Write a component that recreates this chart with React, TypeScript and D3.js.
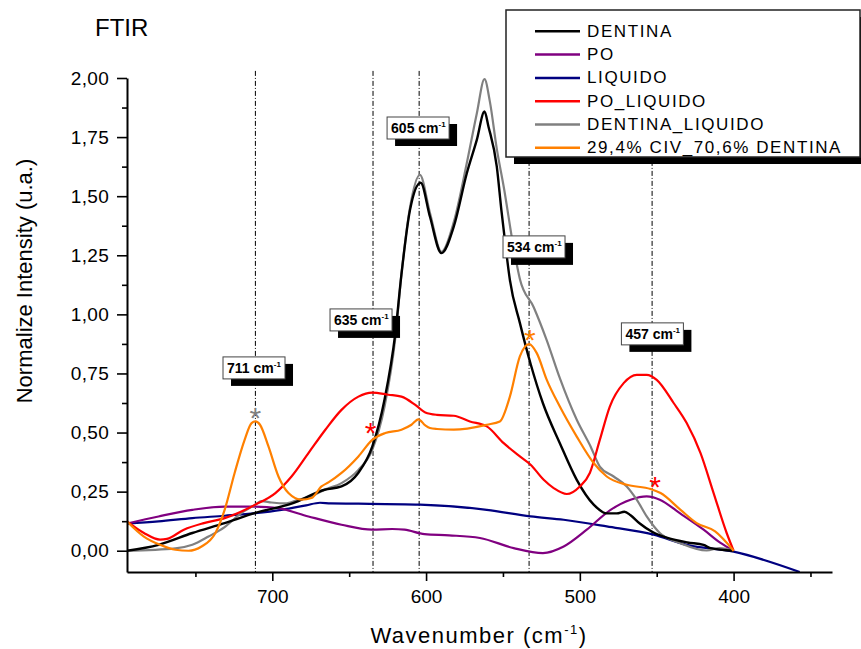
import React, { useEffect, useRef } from "react";
import * as d3 from "d3";

type Pt = [number, number];

// spectra: [wavenumber (cm-1), normalized intensity]
const dentina: Pt[] = [
  [794.5, 0], [774, 0.025], [752, 0.075], [731, 0.117], [711, 0.16], [687, 0.2],
  [666, 0.258], [655, 0.272], [644, 0.33], [635, 0.44], [627, 0.64], [620, 0.92],
  [616, 1.17], [610.5, 1.44], [603.5, 1.557], [597.5, 1.414], [590, 1.259], [582, 1.371],
  [573.5, 1.597], [567, 1.738], [562, 1.858], [559.4, 1.794], [554, 1.625], [551, 1.44],
  [548.5, 1.3], [545.5, 1.146], [539, 0.964], [532, 0.79], [524, 0.624], [513, 0.455],
  [502, 0.3], [491, 0.195], [482.5, 0.158], [476, 0.158], [471, 0.165], [467, 0.15],
  [461, 0.115], [453, 0.08], [443, 0.054], [430, 0.035], [419.5, 0.025], [415, 0.011], [400, 0],
];

const po: Pt[] = [
  [794.5, 0.115], [774, 0.145], [752, 0.173], [731, 0.187], [711, 0.187], [696, 0.18],
  [676.5, 0.145], [655, 0.11], [635, 0.089], [622, 0.092], [614, 0.089], [601, 0.07],
  [585, 0.065], [565, 0.054], [543, 0.011], [524, -0.01], [510.5, 0.018], [495.5, 0.089],
  [480, 0.173], [467, 0.216], [456.5, 0.23], [448, 0.216], [435, 0.159], [419.5, 0.089],
  [408.5, 0.033], [400, 0],
];

const liquido: Pt[] = [
  [794.5, 0.115], [774, 0.124], [752, 0.138], [731, 0.148], [711, 0.159], [694, 0.173],
  [678, 0.192], [669, 0.203], [662, 0.2], [644, 0.199], [604, 0.195], [560.5, 0.173],
  [532, 0.145], [510.5, 0.131], [482.5, 0.103], [452, 0.068], [430.5, 0.025], [400, -0.004],
  [357, -0.09],
];

const poLiquido: Pt[] = [
  [794.5, 0.124], [783.5, 0.075], [773, 0.047], [768.5, 0.05], [757.5, 0.089], [744.5, 0.117],
  [731, 0.138], [711, 0.195], [698, 0.244], [687.5, 0.314], [676.5, 0.413], [665.5, 0.512],
  [655, 0.596], [644, 0.652], [635, 0.669], [624.5, 0.66], [616, 0.652], [607, 0.617],
  [600.5, 0.585], [593, 0.575], [582, 0.571], [571.5, 0.547], [560.5, 0.526], [549.5, 0.455],
  [539, 0.399], [532, 0.364], [523.5, 0.3], [517, 0.265], [508.5, 0.24], [500, 0.272],
  [493.5, 0.329], [487, 0.469], [480.5, 0.61], [471.5, 0.709], [463, 0.744], [456.5, 0.744],
  [450, 0.723], [439, 0.625], [430.5, 0.54], [421.5, 0.413], [413, 0.244], [404.5, 0.075], [400, 0],
];

const dentinaLiquido: Pt[] = [
  [794.5, 0], [763, 0.01], [752, 0.025], [741.5, 0.06], [731, 0.1], [720, 0.16],
  [711, 0.195], [707, 0.21], [700.5, 0.204], [691.5, 0.2], [683, 0.216], [674.5, 0.23],
  [666, 0.258], [655, 0.286], [644, 0.342], [635, 0.427], [627, 0.61], [620, 0.9],
  [616, 1.17], [610.5, 1.45], [604, 1.59], [597.5, 1.43], [590, 1.265], [582, 1.39],
  [573.5, 1.64], [567, 1.85], [562, 1.995], [558.5, 1.9], [554, 1.7], [549.5, 1.54],
  [543, 1.28], [539, 1.15], [530, 1.03], [521.5, 0.89], [513, 0.73], [502, 0.554],
  [493, 0.441], [487, 0.356], [478, 0.314], [469.5, 0.272], [463, 0.216], [456.5, 0.145],
  [448, 0.075], [435, 0.033], [417.5, 0.001], [409, 0.011], [400, 0],
];

const civDentina: Pt[] = [
  [794.5, 0.124], [783.5, 0.06], [773, 0.025], [763, 0.004], [754.5, 0], [746, 0.018],
  [737, 0.075], [731, 0.173], [724.5, 0.329], [718, 0.469], [713.5, 0.54], [711, 0.547],
  [708, 0.533], [702.5, 0.441], [696, 0.314], [689.5, 0.244], [681, 0.216], [674.5, 0.223],
  [668, 0.272], [663.5, 0.289], [655, 0.329], [644, 0.399], [635, 0.469], [626.5, 0.498],
  [616, 0.512], [609.5, 0.533], [605, 0.556], [600.5, 0.53], [597.5, 0.519], [593, 0.515],
  [582, 0.512], [560.5, 0.533], [552, 0.547], [545.5, 0.652], [539, 0.822], [533, 0.874],
  [528, 0.836], [521.5, 0.723], [513, 0.61], [502, 0.483], [491, 0.371], [482.5, 0.314],
  [469.5, 0.279], [454, 0.261], [447.5, 0.244], [434.5, 0.173], [424, 0.117], [412, 0.082], [400, 0],
];

const seriesNames = ["DENTINA", "PO", "LIQUIDO", "PO_LIQUIDO", "DENTINA_LIQUIDO", "29,4% CIV_70,6% DENTINA"];
const seriesData = [dentina, po, liquido, poLiquido, dentinaLiquido, civDentina];
const seriesColors = ["#000000", "#800080", "#000080", "#ff0000", "#808080", "#ff8000"];
const drawOrder = [2, 1, 4, 0, 3, 5];

const xMajorTicks = [700, 600, 500, 400];
const xMinorTicks = [750, 650, 550, 450, 350];
const yMajorTicks = [0, 0.25, 0.5, 0.75, 1, 1.25, 1.5, 1.75, 2];
const yMinorTicks = [0.125, 0.375, 0.625, 0.875, 1.125, 1.375, 1.625, 1.875];

// marked bands
const peakLabels = ["711", "635", "605", "534", "457"];
const peakLines = [711, 634.5, 604.5, 533, 453];
const peakBoxWn = [711.9, 642.3, 605.2, 529.8, 452.8];
const peakBoxVal = [0.82, 1.023, 1.835, 1.332, 0.964];

const starWn = [711, 636, 532.5, 451];
const starVal = [0.592, 0.526, 0.922, 0.3];
const starColors = ["#808080", "#ff0000", "#ff8000", "#ff0000"];

const FONT = "Arial, 'Liberation Sans', sans-serif";

const App = () => {
  const ref = useRef<SVGSVGElement>(null);

  useEffect(() => {
    document.body.style.margin = "0";
    const svg = d3.select(ref.current);
    svg.selectAll("*").remove();

    const x = d3.scaleLinear().domain([794.5, 336]).range([127, 832]);
    const y = d3.scaleLinear().domain([-0.09, 2.0]).range([572, 78]);

    svg.append("defs").append("clipPath").attr("id", "plot-clip")
      .append("rect").attr("x", 127).attr("y", 40).attr("width", 705).attr("height", 532);

    // dash-dot band markers
    svg.append("g").selectAll("line").data(peakLines).enter().append("line")
      .attr("x1", (d) => x(d)).attr("x2", (d) => x(d))
      .attr("y1", y(2.03)).attr("y2", y(-0.09))
      .attr("stroke", "#000").attr("stroke-width", 1)
      .attr("stroke-dasharray", "5,2,1,2");

    // spectra
    const line = d3.line<Pt>()
      .x((d) => x(d[0]))
      .y((d) => y(d[1]))
      .curve(d3.curveMonotoneX);

    const curves = svg.append("g").attr("clip-path", "url(#plot-clip)");
    drawOrder.forEach((i) => {
      curves.append("path")
        .datum(seriesData[i])
        .attr("fill", "none")
        .attr("stroke", seriesColors[i])
        .attr("stroke-width", i === 0 ? 2.4 : 2.2)
        .attr("stroke-linejoin", "round")
        .attr("d", line);
    });

    // axes
    const fmt = (d: number) => d3.format(".2f")(d).replace(".", ",");
    const gx = svg.append("g").attr("transform", `translate(0,${y(-0.09)})`);
    gx.call(d3.axisBottom(x).tickValues(xMajorTicks).tickSize(9).tickPadding(9).tickSizeOuter(0).tickFormat(d3.format("d")));
    const gxm = svg.append("g").attr("transform", `translate(0,${y(-0.09)})`);
    gxm.call(d3.axisBottom(x).tickValues(xMinorTicks).tickSize(5).tickFormat(() => ""));
    gxm.select(".domain").remove();

    const gy = svg.append("g").attr("transform", "translate(127,0)");
    gy.call(d3.axisLeft(y).tickValues(yMajorTicks).tickSize(10).tickPadding(8).tickSizeOuter(0).tickFormat((d) => fmt(d as number)));
    const gym = svg.append("g").attr("transform", "translate(127,0)");
    gym.call(d3.axisLeft(y).tickValues(yMinorTicks).tickSize(5).tickFormat(() => ""));
    gym.select(".domain").remove();

    [gx, gxm, gy, gym].forEach((g) => {
      g.selectAll(".domain").attr("stroke", "#000").attr("stroke-width", 2);
      g.selectAll(".tick line").attr("stroke", "#000").attr("stroke-width", 1.6);
      g.selectAll("text").attr("font-family", FONT).attr("font-size", 19).attr("fill", "#000");
    });
    gy.selectAll("text").attr("letter-spacing", 0.3);

    // axis titles
    const xt = svg.append("text")
      .attr("x", 479).attr("y", 643)
      .attr("text-anchor", "middle")
      .attr("font-family", FONT).attr("font-size", 22)
      .attr("letter-spacing", 1.5);
    xt.append("tspan").text("Wavenumber (cm");
    xt.append("tspan").attr("dy", -9).attr("font-size", 13).text("-1");
    xt.append("tspan").attr("dy", 9).text(")");

    svg.append("text")
      .attr("transform", "translate(32,281) rotate(-90)")
      .attr("text-anchor", "middle")
      .attr("font-family", FONT).attr("font-size", 22)
      .text("Normalize Intensity (u.a.)");

    svg.append("text")
      .attr("x", 95).attr("y", 36)
      .attr("font-family", FONT).attr("font-size", 24)
      .text("FTIR");

    // band label boxes
    peakLabels.forEach((lab, i) => {
      const bx = x(peakBoxWn[i]) - 31;
      const by = y(peakBoxVal[i]);
      svg.append("rect").attr("x", bx + 8).attr("y", by + 7).attr("width", 62).attr("height", 22).attr("fill", "#000");
      svg.append("rect").attr("x", bx).attr("y", by).attr("width", 62).attr("height", 22)
        .attr("fill", "#fff").attr("stroke", "#444").attr("stroke-width", 1);
      const t = svg.append("text").attr("x", bx + 4).attr("y", by + 16)
        .attr("font-family", FONT).attr("font-size", 14).attr("font-weight", "bold");
      t.append("tspan").text(`${lab} cm`);
      t.append("tspan").attr("dy", -6).attr("font-size", 8).text("-1");
    });

    // asterisks
    starWn.forEach((w, i) => {
      svg.append("text")
        .attr("x", x(w)).attr("y", y(starVal[i]) + 17)
        .attr("text-anchor", "middle")
        .attr("font-family", FONT).attr("font-size", 30)
        .attr("fill", starColors[i])
        .text("*");
    });

    // legend
    const lg = svg.append("g");
    lg.append("rect").attr("x", 514).attr("y", 17).attr("width", 354).attr("height", 147).attr("fill", "#000");
    lg.append("rect").attr("x", 506).attr("y", 10).attr("width", 354).attr("height", 147)
      .attr("fill", "#fff").attr("stroke", "#222").attr("stroke-width", 1.5);
    seriesNames.forEach((name, i) => {
      const ly = 31.3 + i * 23.3;
      lg.append("line").attr("x1", 535).attr("x2", 580).attr("y1", ly).attr("y2", ly)
        .attr("stroke", seriesColors[i]).attr("stroke-width", 2.5);
      lg.append("text").attr("x", 587).attr("y", ly + 5.5)
        .attr("font-family", FONT).attr("font-size", 17)
        .attr("letter-spacing", 1.6)
        .text(name);
    });
  }, []);

  return <svg ref={ref} width={861} height={649} style={{ display: "block", background: "#fff" }} />;
};

export default App;
